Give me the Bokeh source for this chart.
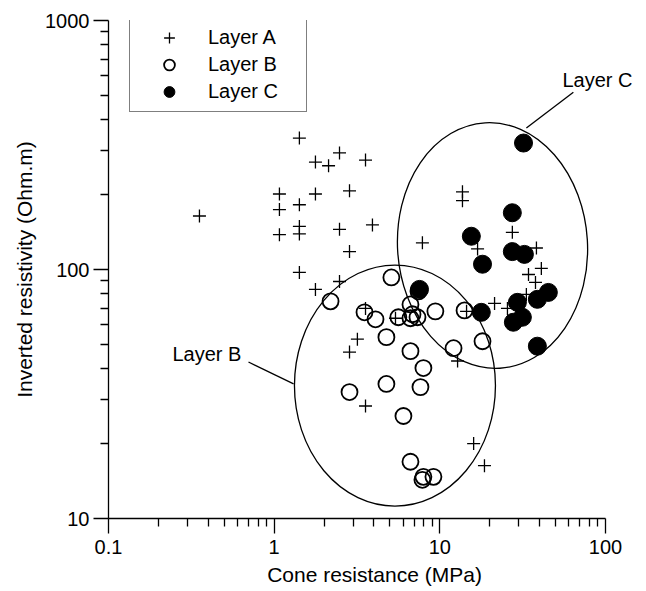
from bokeh.plotting import figure
from bokeh.models import (FixedTicker, CustomJSTickFormatter, Legend, LegendItem,
                          Label, Range1d)
from bokeh.embed import file_html
from bokeh.resources import INLINE

# ---- data ----
layer_a_x = [0.354, 1.42, 1.775, 2.13, 2.48, 3.56, 1.076, 1.076, 1.42, 1.775,
             2.85, 1.076, 1.42, 1.42, 2.48, 3.92, 2.85, 1.42, 1.775, 2.48,
             7.85, 13.7, 13.7, 27.4, 16.9, 38.3, 41.0, 34.3, 37.8, 33.3,
             21.4, 25.6, 3.56, 5.40, 14.5, 3.18, 2.85, 12.8, 3.56, 16.0, 18.6]
layer_a_y = [164, 337, 270, 261, 294, 275, 201, 174, 182, 201,
             207, 138, 149, 139, 145, 151, 118, 97.3, 83.2, 89.5,
             128, 205, 189, 141, 121, 122, 101, 95.5, 88.7, 79.4,
             73.1, 69.8, 69.8, 63.7, 67.9, 52.5, 46.6, 42.9, 28.3, 20.0, 16.3]

layer_b_x = [2.19, 3.51, 4.09, 4.76, 2.85, 5.10, 7.43, 6.65, 6.84, 6.65,
             7.33, 5.62, 9.40, 14.1, 18.1, 12.1, 6.65, 7.96, 4.76, 7.64,
             6.03, 6.65, 7.96, 9.15, 7.85]
layer_b_y = [74.5, 67.3, 63.1, 53.5, 32.2, 92.9, 81.7, 72.4, 66.1, 63.7,
             64.3, 64.3, 67.9, 68.5, 51.5, 48.3, 47.0, 40.2, 34.7, 33.7,
             25.8, 16.9, 14.7, 14.7, 14.3]

layer_c_x = [32.0, 27.4, 15.5, 27.4, 32.4, 18.1, 7.54, 17.8, 29.4, 31.5,
             27.8, 38.8, 45.2, 38.8]
layer_c_y = [322, 169, 136, 118, 115, 105, 83.2, 67.3, 73.8, 64.3,
             61.4, 75.9, 80.9, 49.2]

x_ticks = [0.1, 1, 10, 100]
y_ticks = [10, 100, 1000]

# ---- annotation geometry ----
ELL_B = dict(x=5.36, y=34.2, w=201, h=241, angle=0.0)
ELL_C = dict(x=20.8, y=124.8, w=190, h=246, angle=0.06)
LABEL_B = dict(x=0.243, y=45.7, text="Layer B")
LABEL_C = dict(x=55.0, y=575, text="Layer C")
LEADER_B = dict(x=[0.70, 1.31], y=[42.5, 34.7])
LEADER_C = dict(x=[64.0, 33.3], y=[515, 370])

FONT = "Liberation Sans"

# frame extends a little past x=100 (axis drawn only to 100) so that the
# "Layer C" label is not clipped
p = figure(width=646, height=591, x_axis_type="log", y_axis_type="log",
           x_range=Range1d(0.1, 162.7), y_range=Range1d(10, 1000),
           output_backend="svg", toolbar_location=None,
           min_border_left=108, min_border_right=6,
           min_border_top=20, min_border_bottom=73)
p.outline_line_color = None
p.xgrid.visible = False
p.ygrid.visible = False
p.background_fill_color = "white"
p.border_fill_color = "white"

def minor(decades):
    out = []
    for d in decades:
        out += [d * k for k in range(2, 10)]
    return out

p.xaxis.ticker = FixedTicker(ticks=x_ticks, minor_ticks=minor([0.1, 1, 10]))
p.yaxis.ticker = FixedTicker(ticks=y_ticks, minor_ticks=minor([10, 100]))
p.xaxis.formatter = CustomJSTickFormatter(code="return String(tick);")
p.yaxis.formatter = CustomJSTickFormatter(code="return String(tick);")
p.xaxis.bounds = (x_ticks[0], x_ticks[-1])

for ax in (p.xaxis[0], p.yaxis[0]):
    ax.axis_line_color = "black"
    ax.axis_line_width = 1.3
    ax.major_tick_line_color = "black"
    ax.minor_tick_line_color = "black"
    ax.major_tick_line_width = 1.3
    ax.minor_tick_line_width = 1.3
    ax.major_tick_in = 0
    ax.minor_tick_in = 0
    ax.major_tick_out = 15
    ax.minor_tick_out = 8
    ax.major_label_text_font = FONT
    ax.major_label_text_font_size = "20px"
    ax.major_label_text_color = "black"
    ax.axis_label_text_font = FONT
    ax.axis_label_text_font_size = "21px"
    ax.axis_label_text_font_style = "normal"
    ax.axis_label_text_color = "black"

p.xaxis.axis_label = "Cone resistance (MPa)"
p.yaxis.axis_label = "Inverted resistivity (Ohm.m)"
p.xaxis.major_label_standoff = 6
p.yaxis.major_label_standoff = 4
p.xaxis.axis_label_standoff = 6
p.yaxis.axis_label_standoff = 6

# ellipses
for e in (ELL_B, ELL_C):
    p.ellipse(x=[e["x"]], y=[e["y"]], width=[e["w"]], height=[e["h"]],
              angle=e["angle"], width_units="screen", height_units="screen",
              fill_color=None, line_color="black", line_width=1.3)

# leader lines
for ld in (LEADER_B, LEADER_C):
    p.line(x=ld["x"], y=ld["y"], line_color="black", line_width=1.3)

for lb in (LABEL_B, LABEL_C):
    p.add_layout(Label(x=lb["x"], y=lb["y"], text=lb["text"],
                       text_font=FONT, text_font_size="20px",
                       text_baseline="middle", text_align="left",
                       text_color="black"))

ra = p.scatter(layer_a_x, layer_a_y, marker="cross", size=13,
               line_color="black", line_width=1.3)
rb = p.scatter(layer_b_x, layer_b_y, marker="circle", size=16,
               fill_color=None, line_color="black", line_width=1.8)
rc = p.scatter(layer_c_x, layer_c_y, marker="circle", size=18,
               fill_color="black", line_color="black", line_width=1)

legend = Legend(items=[LegendItem(label="Layer A", renderers=[ra]),
                       LegendItem(label="Layer B", renderers=[rb]),
                       LegendItem(label="Layer C", renderers=[rc])],
                location=(21, 406), margin=0, padding=6, spacing=0,
                glyph_width=66, glyph_height=27, label_height=27,
                label_standoff=6, label_width=92,
                label_text_font=FONT, label_text_font_size="20px",
                label_text_color="black",
                border_line_color="black", border_line_width=1.5,
                background_fill_color="white", background_fill_alpha=1)
p.add_layout(legend, "center")

open("out.html", "w").write(file_html(p, INLINE))
